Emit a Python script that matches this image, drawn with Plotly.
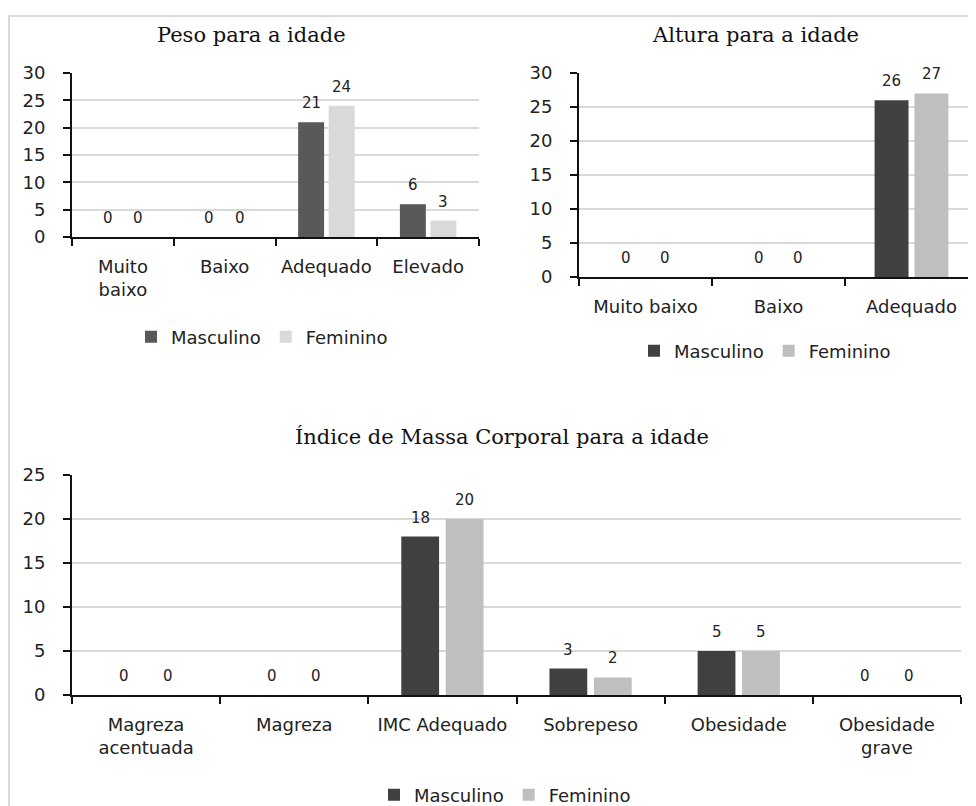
import plotly.graph_objects as go

# ---------------- data ----------------
peso_cats = ["Muito<br>baixo", "Baixo", "Adequado", "Elevado"]
peso_masc = [0, 0, 21, 6]
peso_fem = [0, 0, 24, 3]

altura_cats = ["Muito baixo", "Baixo", "Adequado"]
altura_masc = [0, 0, 26]
altura_fem = [0, 0, 27]

imc_cats = ["Magreza<br>acentuada", "Magreza", "IMC Adequado", "Sobrepeso", "Obesidade", "Obesidade<br>grave"]
imc_masc = [0, 0, 18, 3, 5, 0]
imc_fem = [0, 0, 20, 2, 5, 0]

titles = ["Peso para a idade", "Altura para a idade", "Índice de Massa Corporal para a idade"]
series_names = ["Masculino", "Feminino"]

# page body has an 8px margin: the figure is drawn from (8, 8) of the window
OFF = 8
W, H = 976 - OFF, 806 - OFF
BARGAP = 0.4
BARGROUPGAP = 0.15

TICKFONT = dict(family="DejaVu Sans", size=18, color="#222222")
LABELFONT = dict(family="DejaVu Sans", size=15, color="#222222")

def px(x):
    return min(1.0, max(0.0, (x - OFF) / W))

def py(y):
    return min(1.0, max(0.0, 1 - (y - OFF) / H))

fig = go.Figure()

charts = [
    dict(cats=peso_cats, m=peso_masc, f=peso_fem, colors=("#595959", "#d9d9d9"),
         ax="x", ay="y", legend="legend", ymax=30, xend=0.0,
         xd=[px(72), px(479)], yd=[py(237), py(73)],
         title_xy=(251, 35), legend_xy=(262, 337)),
    # the right-hand chart is cut off by the edge of the picture
    dict(cats=altura_cats, m=altura_masc, f=altura_fem, colors=("#404040", "#bfbfbf"),
         ax="x2", ay="y2", legend="legend2", ymax=30, xend=0.015,
         xd=[px(579), 1.0], yd=[py(277), py(73)],
         title_xy=(755, 35), legend_xy=(765, 351)),
    dict(cats=imc_cats, m=imc_masc, f=imc_fem, colors=("#404040", "#bfbfbf"),
         ax="x3", ay="y3", legend="legend3", ymax=25, xend=0.0,
         xd=[px(72), px(961)], yd=[py(695), py(475)],
         title_xy=(502, 437), legend_xy=(505, 795)),
]

annotations = []
slot = (1 - BARGAP) / 2
for k, c in enumerate(charts):
    for vals, name, col in ((c["m"], series_names[0], c["colors"][0]),
                            (c["f"], series_names[1], c["colors"][1])):
        fig.add_trace(go.Bar(
            x=c["cats"], y=vals, name=name, marker=dict(color=col, line=dict(width=0)),
            xaxis=c["ax"], yaxis=c["ay"], legend=c["legend"],
        ))
    for i in range(len(c["cats"])):
        for j, vals in enumerate((c["m"], c["f"])):
            off = (-slot / 2) if j == 0 else (slot / 2)
            annotations.append(dict(
                x=i + off, y=vals[i], xref=c["ax"], yref=c["ay"],
                text=str(vals[i]), showarrow=False, yshift=19,
                xanchor="center", yanchor="middle", font=LABELFONT,
            ))
    tx, ty = c["title_xy"]
    annotations.append(dict(
        x=px(tx), y=py(ty), xref="paper", yref="paper", text=titles[k],
        showarrow=False, xanchor="center", yanchor="middle",
        font=dict(family="DejaVu Serif", size=21, color="#111111"),
    ))

layout = dict(
    width=W, height=H, margin=dict(l=0, r=0, t=0, b=0, autoexpand=False),
    paper_bgcolor="white", plot_bgcolor="white",
    barmode="group", bargap=BARGAP, bargroupgap=BARGROUPGAP,
    annotations=annotations,
    shapes=[dict(type="rect", xref="paper", yref="paper",
                 x0=1.0 / W, y0=-0.2, x1=1.2, y1=1 - 8.0 / H,
                 line=dict(color="#d9d9d9", width=2))],
)

for k, c in enumerate(charts):
    sx = "" if k == 0 else str(k + 1)
    layout["xaxis" + sx] = dict(
        domain=c["xd"], anchor=c["ay"], type="category",
        range=[-0.5, len(c["cats"]) - 0.5 - c["xend"]], showgrid=False,
        showline=True, linecolor="#111111", linewidth=2,
        ticks="outside", tickson="boundaries", ticklen=7, tickwidth=2, tickcolor="#111111",
        tickfont=TICKFONT, ticklabelstandoff=12, fixedrange=True,
    )
    layout["yaxis" + sx] = dict(
        domain=c["yd"], anchor=c["ax"], range=[0, c["ymax"]], dtick=5,
        showgrid=True, gridcolor="#d9d9d9", gridwidth=1.5, zeroline=False,
        showline=True, linecolor="#111111", linewidth=2,
        ticks="outside", ticklen=7, tickwidth=2, tickcolor="#111111",
        tickfont=TICKFONT, ticklabelstandoff=14, fixedrange=True,
    )
    lx, ly = c["legend_xy"]
    layout[c["legend"]] = dict(
        x=px(lx), y=py(ly), xanchor="center", yanchor="middle",
        orientation="h", font=dict(family="DejaVu Sans", size=18, color="#222222"),
        bgcolor="rgba(0,0,0,0)", itemclick=False, itemdoubleclick=False,
        itemwidth=30,
    )

fig.update_layout(**layout)
fig.write_html("out.html")
